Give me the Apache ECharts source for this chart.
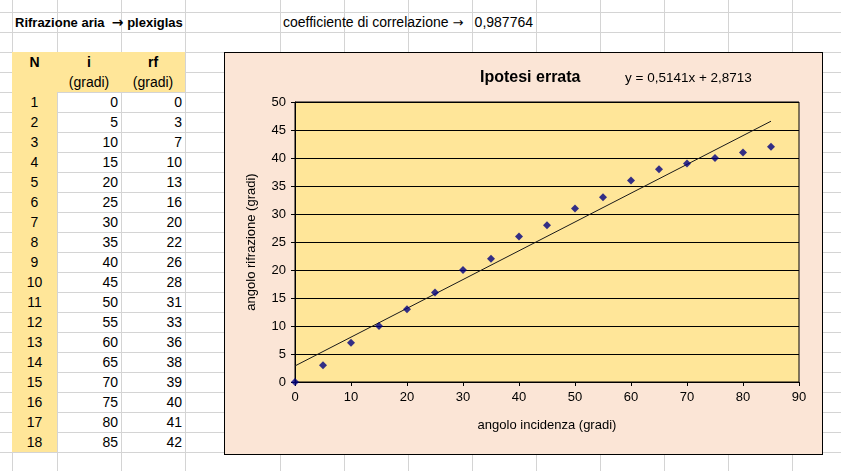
<!DOCTYPE html>
<html><head>
<meta charset="UTF-8">
<title>Rifrazione aria → plexiglas</title>
<style>
  body {
    margin: 0;
    width: 841px;
    height: 471px;
    overflow: hidden;
    background: #fff;
    position: relative;
    font-family: "Liberation Sans", Arial, sans-serif;
  }
  .vl { position: absolute; top: 0; width: 1px; height: 471px; background: #d4d4d4; }
  .hl { position: absolute; left: 0; height: 1px; width: 841px; background: #d4d4d4; }
  .fill { position: absolute; background: #FFE699; }
  .cell {
    position: absolute;
    height: 20px;
    line-height: 21px;
    font-size: 14px;
    color: #000;
    white-space: nowrap;
    box-sizing: border-box;
  }
  .b { font-weight: bold; }
  .arr { font-family: "DejaVu Sans", sans-serif; font-size: 14px; }
  #chart {
    position: absolute;
    left: 225px;
    top: 53px;
    width: 597px;
    height: 401px;
    outline: 1px solid #000;
  }
</style>
</head>
<body>
  <div id="sheet"></div>
  <div id="chart"></div>

  <script src="https://cdn.jsdelivr.net/npm/echarts@6/dist/echarts.min.js"></script>
  <script>
    // dati della tabella
    const nRows = [1, 2, 3, 4, 5, 6, 7, 8, 9, 10, 11, 12, 13, 14, 15, 16, 17, 18];
    const iGradi = [0, 5, 10, 15, 20, 25, 30, 35, 40, 45, 50, 55, 60, 65, 70, 75, 80, 85];
    const rfGradi = [0, 3, 7, 10, 13, 16, 20, 22, 26, 28, 31, 33, 36, 38, 39, 40, 41, 42];

    const trendX = [0, 85];
    const trendY = [2.87, 46.57];

    const correlazione = '0,987764';
    const equazione = 'y = 0,5141x + 2,8713';

    // griglia del foglio
    const colLines = [12, 57, 121, 185, 280, 344, 408, 472, 536, 600, 664, 728, 792];
    const sheet = document.getElementById('sheet');
    let html = '';
    colLines.forEach(x => { html += `<div class="vl" style="left:${x}px"></div>`; });
    for (let k = 0; k < 24; k++) {
      html += `<div class="hl" style="top:${12 + 20 * k}px"></div>`;
    }
    // celle gialle
    html += `<div class="fill" style="left:12px;top:52px;width:45px;height:400px"></div>`;
    html += `<div class="fill" style="left:57px;top:52px;width:128px;height:40px"></div>`;

    function cell(x0, x1, row, text, align, cls) {
      const top = 12 + 20 * row;
      const pad = align === 'right' ? 'padding-right:3px;' : (align === 'left' ? 'padding-left:3px;' : '');
      return `<div class="cell ${cls || ''}" style="left:${x0}px;top:${top}px;width:${x1 - x0}px;text-align:${align};${pad}">${text}</div>`;
    }

    html += `<div class="cell b" style="left:12px;top:12px;width:175px;padding-left:3px;font-size:13px">Rifrazione aria &nbsp;<span class="arr" style="font-weight:bold">→</span> plexiglas</div>`;
    html += `<div class="cell" style="left:280px;top:12px;width:192px;padding-left:3px">coefficiente di correlazione <span class="arr" style="font-size:13px">→</span></div>`;
    html += cell(472, 536, 0, correlazione, 'right');

    html += cell(12, 57, 2, 'N', 'center', 'b');
    html += cell(57, 121, 2, 'i', 'center', 'b');
    html += cell(121, 185, 2, 'rf', 'center', 'b');
    html += cell(57, 121, 3, '(gradi)', 'center');
    html += cell(121, 185, 3, '(gradi)', 'center');

    nRows.forEach((n, k) => {
      html += cell(12, 57, 4 + k, n, 'center');
      html += cell(57, 121, 4 + k, iGradi[k], 'right');
      html += cell(121, 185, 4 + k, rfGradi[k], 'right');
    });
    sheet.innerHTML = html;

    // grafico
    const chart = echarts.init(document.getElementById('chart'));
    const font = '"Liberation Sans", Arial, sans-serif';
    const option = {
      animation: false,
      backgroundColor: '#FBE5D6',
      textStyle: { fontFamily: font },
      grid: {
        left: 70, right: 23, top: 49, bottom: 72,
        show: true,
        backgroundColor: '#FFE699',
        borderColor: '#000',
        borderWidth: 1
      },
      xAxis: {
        type: 'value',
        min: 0, max: 90, interval: 10,
        name: 'angolo incidenza (gradi)',
        nameLocation: 'middle',
        nameGap: 37,
        nameTextStyle: { fontSize: 13, color: '#000', fontFamily: font },
        axisLine: { lineStyle: { color: '#000', width: 1 } },
        axisTick: { length: 4, lineStyle: { color: '#000' } },
        axisLabel: { fontSize: 13, color: '#000', margin: 9, fontFamily: font },
        splitLine: { show: false }
      },
      yAxis: {
        type: 'value',
        min: 0, max: 50, interval: 5,
        name: 'angolo rifrazione (gradi)',
        nameLocation: 'middle',
        nameGap: 37,
        nameTextStyle: { fontSize: 13, color: '#000', fontFamily: font },
        axisLine: { show: true, lineStyle: { color: '#000', width: 1 } },
        axisTick: { show: true, length: 4, lineStyle: { color: '#000' } },
        axisLabel: { fontSize: 13, color: '#000', margin: 9, fontFamily: font },
        splitLine: { show: true, lineStyle: { color: '#000', width: 1 } }
      },
      graphic: [
        {
          type: 'text', left: 255, top: 17,
          style: { text: 'Ipotesi errata', font: 'bold 16px ' + font, fill: '#000' }
        },
        {
          type: 'text', left: 400, top: 18,
          style: { text: equazione, font: '13.5px ' + font, fill: '#000' }
        }
      ],
      series: [
        {
          name: 'tendenza',
          type: 'line',
          data: trendX.map((x, k) => [x, trendY[k]]),
          showSymbol: false,
          silent: true,
          lineStyle: { color: '#1a1a1a', width: 1 },
          z: 2
        },
        {
          name: 'rf',
          type: 'scatter',
          data: iGradi.map((x, k) => [x, rfGradi[k]]),
          symbol: 'diamond',
          symbolSize: 8,
          itemStyle: { color: '#000080' },
          z: 3
        }
      ]
    };
    chart.setOption(option);
  </script>
</body>
</html>
